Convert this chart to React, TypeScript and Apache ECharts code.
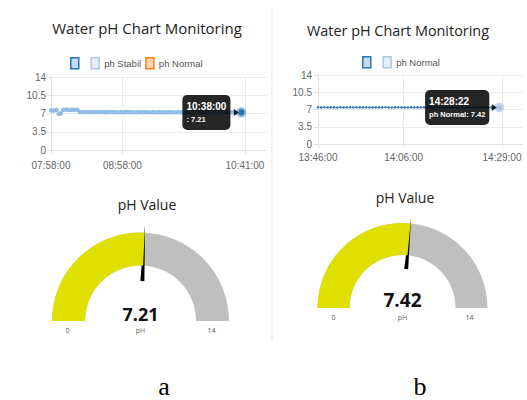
import React, { useEffect, useRef } from 'react';
import * as echarts from 'echarts';

// ---------- data ----------
const chartTitle = 'Water pH Chart Monitoring';
const gaugeTitle = 'pH Value';
const panelLabels = ['a', 'b'];

const timesA = [
  '07:58:00', '08:00:20', '08:02:40', '08:04:30', '08:06:10', '08:08:20', '08:10:40', '08:13:00', '08:15:20', '08:17:40', '08:20:00',
  '08:22:10', '08:24:50', '08:27:30', '08:30:10', '08:32:50', '08:35:30', '08:38:10', '08:40:50', '08:43:30', '08:46:10',
  '08:48:50', '08:51:30', '08:54:10', '08:56:50', '08:59:30', '09:02:10', '09:04:50', '09:07:30', '09:10:10', '09:12:50',
  '09:15:30', '09:18:10', '09:20:50', '09:23:30', '09:26:10', '09:28:50', '09:31:30', '09:34:10', '09:36:50', '09:39:30',
  '09:42:10', '09:44:50', '09:47:30', '09:50:10', '09:52:50', '09:55:30', '09:58:10', '10:00:50', '10:03:30', '10:06:10',
  '10:08:50', '10:11:30', '10:14:10', '10:16:50', '10:19:30', '10:22:10', '10:24:50', '10:27:30', '10:30:10', '10:32:50',
  '10:35:30', '10:38:00',
];
const valuesA = [
  7.62, 7.55, 7.66, 6.92, 7.02, 7.70, 7.74, 7.68, 7.72, 7.69, 7.71,
  7.31, 7.28, 7.30, 7.27, 7.29, 7.26, 7.30, 7.28, 7.25, 7.27,
  7.29, 7.26, 7.24, 7.27, 7.25, 7.28, 7.26, 7.23, 7.25, 7.27,
  7.24, 7.26, 7.22, 7.25, 7.23, 7.26, 7.24, 7.22, 7.25, 7.23,
  7.21, 7.24, 7.22, 7.25, 7.23, 7.20, 7.22, 7.24, 7.21, 7.23,
  7.20, 7.22, 7.24, 7.21, 7.23, 7.20, 7.22, 7.21, 7.23, 7.20,
  7.22, 7.21,
];

const timesB = [
  '13:46:00', '13:46:45', '13:47:30', '13:48:15', '13:49:00', '13:49:45', '13:50:30', '13:51:15', '13:52:00', '13:52:45',
  '13:53:30', '13:54:15', '13:55:00', '13:55:45', '13:56:30', '13:57:15', '13:58:00', '13:58:45', '13:59:30', '14:00:15',
  '14:01:00', '14:01:45', '14:02:30', '14:03:15', '14:04:00', '14:04:45', '14:05:30', '14:06:15', '14:07:00', '14:07:45',
  '14:08:30', '14:09:15', '14:10:00', '14:10:45', '14:11:30', '14:12:15', '14:13:00', '14:13:45', '14:14:30', '14:15:15',
  '14:16:00', '14:16:45', '14:17:30', '14:18:15', '14:19:00', '14:19:45', '14:20:30', '14:21:15', '14:22:00', '14:22:45',
  '14:23:30', '14:24:15', '14:25:00', '14:25:45', '14:26:30', '14:27:15', '14:28:22',
];
const valuesB = [
  7.44, 7.43, 7.45, 7.42, 7.44, 7.43, 7.41, 7.44, 7.42, 7.43,
  7.45, 7.42, 7.44, 7.43, 7.42, 7.44, 7.41, 7.43, 7.44, 7.42,
  7.43, 7.45, 7.42, 7.41, 7.43, 7.44, 7.42, 7.43, 7.41, 7.44,
  7.42, 7.43, 7.42, 7.44, 7.41, 7.43, 7.42, 7.44, 7.43, 7.41,
  7.42, 7.44, 7.43, 7.42, 7.41, 7.43, 7.44, 7.42, 7.43, 7.41,
  7.42, 7.44, 7.43, 7.42, 7.41, 7.43, 7.42,
];

const yTicks = [0, 3.5, 7, 10.5, 14];
const xLabelsA = ['07:58:00', '08:58:00', '10:41:00'];
const xLabelsB = ['13:46:00', '14:06:00', '14:29:00'];
const xRangeA = ['07:58:00', '10:58:40'];
const xRangeB = ['13:46:00', '14:33:40'];

const legendA = [' ', 'ph Stabil', 'ph Normal'];
const legendB = [' ', 'ph Normal'];

const gaugeValues = [7.21, 7.42];
const gaugeMin = 0;
const gaugeMax = 14;
const gaugeUnit = 'pH';

// ---------- helpers ----------
const toSec = (t: string) => {
  const [h, m, s] = t.split(':').map(Number);
  return h * 3600 + m * 60 + s;
};
const fmt = (v: number) => {
  const h = Math.floor(v / 3600);
  const m = Math.floor((v % 3600) / 60);
  const s = Math.round(v % 60);
  return [h, m, s].map((n) => String(n).padStart(2, '0')).join(':');
};

const AXIS_FONT = 'Arial, "Liberation Sans", sans-serif';
const UI_FONT = '"Open Sans", "Noto Sans", sans-serif';
const TIP_BG = 'rgba(0,0,0,0.85)';

const legendStyles: Record<string, any> = {
  ' ': { color: '#c6dbef', borderColor: '#1f77b4', borderWidth: 1.5 },
  'ph Stabil': { color: '#e6eef8', borderColor: '#aec7e8', borderWidth: 1.5 },
  'ph Normal': { color: '#fbd7b5', borderColor: '#ff7f0e', borderWidth: 1.5 },
};
const legendStylesB: Record<string, any> = {
  ' ': { color: '#c6dbef', borderColor: '#1f77b4', borderWidth: 1.5 },
  'ph Normal': { color: '#e6eef8', borderColor: '#aec7e8', borderWidth: 1.5 },
};

function lineData(times: string[], values: number[], tipText: (i: number) => string, lastStyle: any, dist: number) {
  const last = times.length - 1;
  return times.map((t, i) => {
    if (i !== last) return [toSec(t), values[i]];
    return {
      value: [toSec(t), values[i]],
      symbol: 'circle',
      symbolSize: 8,
      itemStyle: lastStyle,
      label: {
        show: true,
        position: 'left',
        distance: dist,
        formatter: tipText(i),
        backgroundColor: TIP_BG,
        borderRadius: 5,
        padding: [4, 4, 4, 4],
        rich: {
          t: { align: 'left', fontSize: 10, fontWeight: 'bold', color: '#fff', fontFamily: AXIS_FONT, lineHeight: 15 },
          v: { align: 'left', fontSize: 7.5, fontWeight: 'bold', color: '#fff', fontFamily: AXIS_FONT, lineHeight: 12 },
        },
      },
    };
  });
}

function tipArrow(times: string[], values: number[]) {
  const last = times.length - 1;
  return {
    silent: true,
    symbol: 'triangle',
    symbolSize: [7, 5],
    symbolRotate: -90,
    symbolOffset: [-5, 0],
    itemStyle: { color: TIP_BG },
    label: { show: false },
    data: [{ coord: [toSec(times[last]), values[last]] }],
  };
}

function makeAxes(grid: number, range: string[], labels: string[], labelMargin: number, yMargin: number) {
  const x = {
    type: 'value',
    gridIndex: grid,
    min: toSec(range[0]),
    max: toSec(range[1]),
    axisLine: { show: true, lineStyle: { color: '#e2e2e2' } },
    axisTick: { show: true, length: 4, lineStyle: { color: '#e2e2e2' }, customValues: labels.map(toSec) },
    axisLabel: {
      customValues: labels.map(toSec),
      formatter: (v: number) => fmt(v),
      fontSize: 10,
      color: '#666',
      fontFamily: AXIS_FONT,
      margin: labelMargin,
      showMinLabel: true,
      showMaxLabel: true,
    },
    splitLine: { show: true, lineStyle: { color: '#ebebeb' } },
  };
  const y = {
    type: 'value',
    gridIndex: grid,
    min: yTicks[0],
    max: yTicks[yTicks.length - 1],
    interval: yTicks[1] - yTicks[0],
    axisLine: { show: true, lineStyle: { color: '#e2e2e2' } },
    axisTick: { show: true, length: 4, lineStyle: { color: '#e2e2e2' } },
    axisLabel: { fontSize: 10, color: '#666', fontFamily: AXIS_FONT, margin: yMargin },
    splitLine: { show: true, lineStyle: { color: '#ebebeb' } },
  };
  return { x, y };
}

function gaugeSeries(value: number, cx: number, cy: number, r: number, band: number, pointerLen: number, pointerBase: number, detailSize: number, detailY: number, labelDist: number) {
  return [
    {
      type: 'gauge',
      center: [cx, cy],
      radius: r,
      startAngle: 180,
      endAngle: 0,
      min: gaugeMin,
      max: gaugeMax,
      splitNumber: 1,
      axisLine: { lineStyle: { width: band, color: [[1, '#bfbfbf']] } },
      progress: { show: true, width: band, itemStyle: { color: '#e0e000' } },
      splitLine: { show: false },
      axisTick: { show: false },
      axisLabel: { show: false },
      anchor: { show: false },
      pointer: {
        show: true,
        icon: 'path://M2,0 L4,100 L0,100 Z',
        width: 4,
        length: pointerLen,
        offsetCenter: [0, -pointerBase],
        keepAspect: false,
        itemStyle: { color: '#000' },
      },
      title: { show: true, offsetCenter: [0, 9], fontSize: 7, color: '#666', fontFamily: UI_FONT },
      detail: {
        show: true,
        offsetCenter: [0, detailY],
        fontSize: detailSize,
        fontWeight: 'bold',
        color: '#111',
        fontFamily: UI_FONT,
        formatter: (v: number) => v.toFixed(2),
      },
      data: [{ value, name: gaugeUnit }],
    },
    {
      type: 'gauge',
      center: [cx, cy + 9],
      radius: r,
      startAngle: 180,
      endAngle: 0,
      min: gaugeMin,
      max: gaugeMax,
      splitNumber: 1,
      axisLine: { show: false },
      progress: { show: false },
      splitLine: { show: false, length: 0, distance: 0 },
      axisTick: { show: false },
      axisLabel: { show: true, distance: labelDist, fontSize: 7, color: '#555', fontFamily: UI_FONT },
      pointer: { show: false },
      anchor: { show: false },
      title: { show: false },
      detail: { show: false },
      data: [{ value: gaugeMin, name: '' }],
    },
  ];
}

export default function App() {
  const ref = useRef<HTMLDivElement>(null);
  useEffect(() => {
    if (!ref.current) return;
    const chart = echarts.init(ref.current, null, { renderer: 'svg', width: 527, height: 400 });
    const a = makeAxes(0, xRangeA, xLabelsA, 10, 5);
    const b = makeAxes(1, xRangeB, xLabelsB, 8, 6);

    const option: any = {
      animation: false,
      backgroundColor: '#fff',
      grid: [
        { left: 51, top: 77, width: 215, height: 73 },
        { left: 318, top: 75, width: 204, height: 69 },
      ],
      xAxis: [a.x, b.x],
      yAxis: [a.y, b.y],
      legend: [
        {
          left: 70, top: 57, padding: 0, itemWidth: 8, itemHeight: 11, itemGap: 4, icon: 'rect', selectedMode: false,
          textStyle: { fontSize: 9.5, color: '#555', fontFamily: AXIS_FONT },
          data: legendA.map((n) => ({ name: n, itemStyle: legendStyles[n] })),
        },
        {
          left: 362, top: 56, padding: 0, itemWidth: 8, itemHeight: 11, itemGap: 4, icon: 'rect', selectedMode: false,
          textStyle: { fontSize: 9.5, color: '#555', fontFamily: AXIS_FONT },
          data: legendB.map((n) => ({ name: n, itemStyle: legendStylesB[n] })),
        },
      ],
      series: [
        {
          type: 'line',
          name: legendA[0],
          xAxisIndex: 0,
          yAxisIndex: 0,
          symbol: 'emptyCircle',
          symbolSize: 2.5,
          showAllSymbol: true,
          itemStyle: { color: '#8dbbe3', borderColor: '#6fa3d4', borderWidth: 0.8 },
          lineStyle: { color: '#c3daef', width: 1 },
          markPoint: tipArrow(timesA, valuesA),
          data: lineData(
            timesA,
            valuesA,
            (i) => `{t|${timesA[i]}}\n{v|: ${valuesA[i].toFixed(2)}}`,
            { color: '#1f77b4', borderColor: '#8fb9e0', borderWidth: 2 },
            6,
          ),
        },
        { type: 'line', name: legendA[1], xAxisIndex: 0, yAxisIndex: 0, data: [] },
        { type: 'line', name: legendA[2], xAxisIndex: 0, yAxisIndex: 0, data: [] },
        { type: 'line', name: legendB[0], xAxisIndex: 1, yAxisIndex: 1, data: [] },
        {
          type: 'line',
          name: legendB[1],
          xAxisIndex: 1,
          yAxisIndex: 1,
          symbol: 'circle',
          symbolSize: 2.5,
          showAllSymbol: true,
          itemStyle: { color: '#2f74b5' },
          lineStyle: { color: '#7fb0db', width: 1 },
          markPoint: tipArrow(timesB, valuesB),
          data: lineData(
            timesB,
            valuesB,
            (i) => `{t|${timesB[i]}}\n{v|${legendB[1]}: ${valuesB[i].toFixed(2)}}`,
            { color: '#aec7e8', borderColor: '#c6dbef', borderWidth: 2 },
            5,
          ),
        },
        ...gaugeSeries(gaugeValues[0], 140.5, 321, 88.5, 33, 56, 40, 18, -7, 13.5),
        ...gaugeSeries(gaugeValues[1], 402.5, 308, 85, 32, 51, 39, 19, -8, 14),
      ],
      graphic: [
        { type: 'rect', z: -1, shape: { x: 271, y: 8, width: 2, height: 332 }, style: { fill: '#f1f1f1' } },
        { type: 'text', x: 147, y: 28, style: { text: chartTitle, fill: '#222', font: '15px "Open Sans"', align: 'center', verticalAlign: 'middle' } },
        { type: 'text', x: 398, y: 30, style: { text: chartTitle, fill: '#222', font: '14.4px "Open Sans"', align: 'center', verticalAlign: 'middle' } },
        { type: 'text', x: 147, y: 204, style: { text: gaugeTitle, fill: '#222', font: '14px "Open Sans"', align: 'center', verticalAlign: 'middle' } },
        { type: 'text', x: 405, y: 197, style: { text: gaugeTitle, fill: '#222', font: '14px "Open Sans"', align: 'center', verticalAlign: 'middle' } },
        { type: 'text', x: 164, y: 386, style: { text: panelLabels[0], fill: '#000', font: '26px "Liberation Serif"', align: 'center', verticalAlign: 'middle' } },
        { type: 'text', x: 420, y: 386, style: { text: panelLabels[1], fill: '#000', font: '26px "Liberation Serif"', align: 'center', verticalAlign: 'middle' } },
      ],
    };
    chart.setOption(option);
    return () => chart.dispose();
  }, []);
  return <div ref={ref} style={{ position: 'fixed', left: 0, top: 0, width: 527, height: 400, background: '#fff' }} />;
}
